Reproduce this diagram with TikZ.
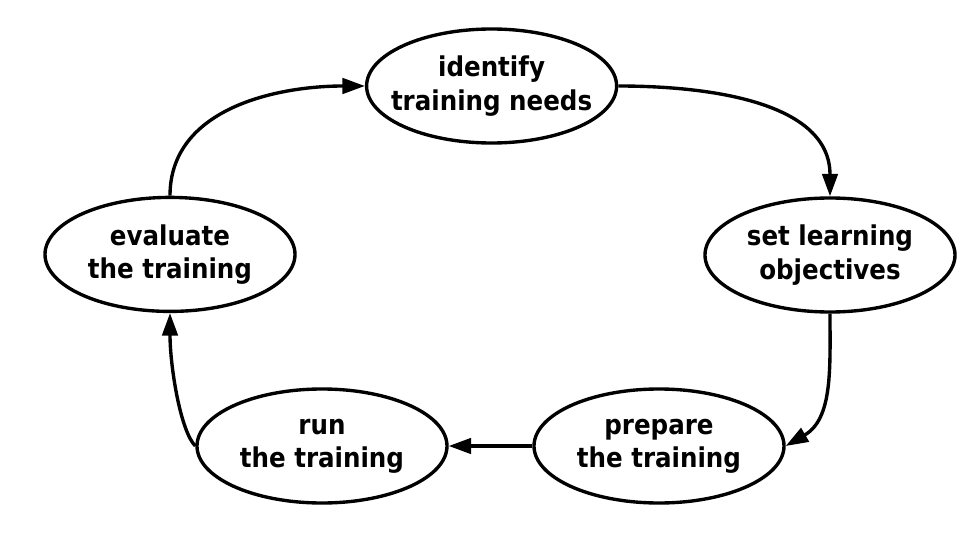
\documentclass[tikz,border=0pt]{standalone}
\usepackage{fontspec}
\setmainfont{DejaVu Sans Condensed}
\usetikzlibrary{shapes.geometric,arrows.meta}

\begin{document}
\begin{tikzpicture}[
  stage/.style={ellipse,draw,line width=2.4pt,minimum width=6.25cm,minimum height=2.85cm,
    align=center,inner xsep=-0.4cm,inner ysep=0pt,font=\fontsize{19.4}{23.6}\selectfont\bfseries},
  flow/.style={line width=2.4pt,-{Triangle[length=16pt,width=11pt]}}]
\useasboundingbox (0,0) rectangle (23.975,13.7);
\node[stage] (identify) at (12.29,11.55) {identify\\training needs};
\node[stage] (objectives) at (20.75,7.325) {set learning\\objectives};
\node[stage] (prepare) at (16.475,2.55) {prepare\\the training};
\node[stage] (run) at (8.05,2.55) {run\\the training};
\node[stage] (evaluate) at (4.25,7.34) {evaluate\\the training};
\draw[flow] (evaluate.north) to[out=90,in=180] (identify.west);
\draw[flow] (identify.east) to[out=0,in=90] (objectives.north);
\draw[flow] (objectives.south) to[out=-90,in=30] (prepare.east);
\draw[flow] (prepare) -- (run);
\draw[flow] (run.west) to[out=135,in=-90,out looseness=0.4] (evaluate.south);
\end{tikzpicture}
\end{document}
